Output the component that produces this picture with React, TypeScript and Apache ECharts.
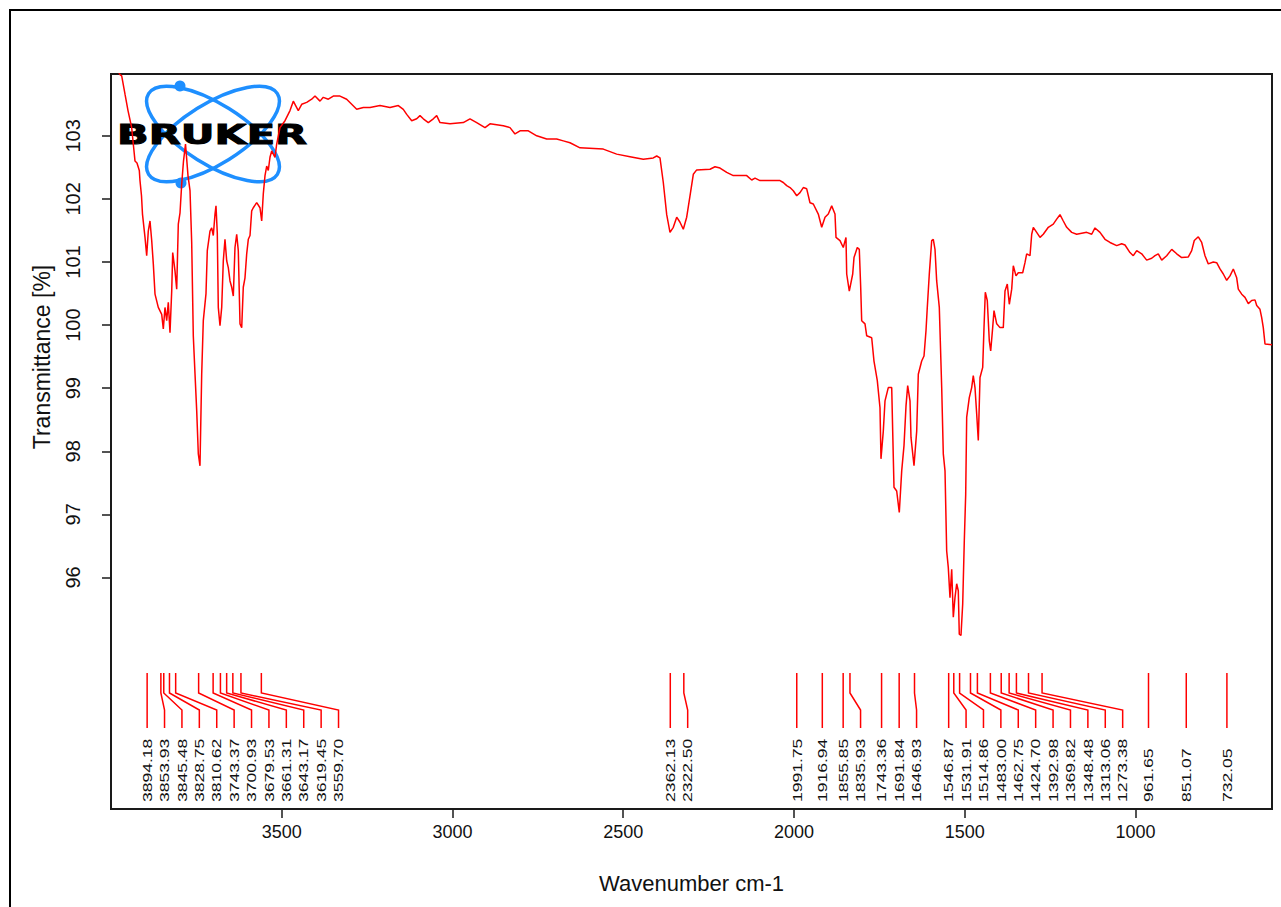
import { useEffect, useRef } from "react";
import * as echarts from "echarts";

// Axis tick positions
const xTicks = [3500, 3000, 2500, 2000, 1500, 1000];
const yTicks = [96, 97, 98, 99, 100, 101, 102, 103];

// Spectrum, [wavenumber cm-1, transmittance %], split by region
const ohStretchRegion: [number, number][] = [
  [3998.5, 104.19], [3973.6, 103.97], [3968.7, 103.95], [3959.0, 103.66], [3950.2, 103.4],
  [3939.4, 103.13], [3934.7, 102.87], [3929.7, 102.6], [3923.9, 102.57], [3917.1, 102.45],
  [3915.1, 102.29], [3910.7, 102.05], [3907.8, 101.76], [3900.4, 101.39], [3895.5, 101.1],
  [3890.8, 101.49], [3885.8, 101.65], [3880.8, 101.34], [3876.1, 100.97], [3871.1, 100.49],
  [3861.5, 100.28], [3851.5, 100.17], [3846.8, 99.94], [3841.9, 100.28], [3836.9, 100.07],
  [3832.2, 100.36], [3827.2, 99.88], [3822.2, 100.54], [3819.3, 101.15], [3812.6, 100.86],
  [3807.6, 100.57], [3802.9, 101.6], [3797.9, 101.78], [3793.0, 102.23], [3787.7, 102.6],
  [3781.8, 102.87], [3774.5, 102.37], [3768.6, 102.13], [3763.7, 101.31], [3759.0, 99.83],
  [3754.0, 99.23], [3749.0, 98.64], [3744.3, 97.96], [3739.4, 97.77], [3734.4, 99.22],
  [3729.7, 100.07], [3721.8, 100.5], [3718.0, 101.18], [3710.1, 101.49], [3705.1, 101.54],
  [3700.4, 101.42], [3695.4, 101.76], [3692.5, 101.89], [3688.7, 101.45], [3685.8, 100.28],
  [3680.8, 99.99], [3675.8, 100.28], [3671.1, 101.02], [3666.2, 101.36], [3661.2, 101.02],
  [3656.5, 100.91], [3651.5, 100.7], [3646.5, 100.6], [3641.8, 100.46], [3636.9, 101.23],
  [3631.9, 101.44], [3627.2, 101.18], [3622.2, 100.02], [3617.2, 99.96], [3612.6, 100.6],
  [3607.6, 100.75], [3602.6, 101.13], [3597.9, 101.36], [3592.9, 101.42], [3588.0, 101.81],
  [3583.3, 101.86], [3573.3, 101.94], [3563.7, 101.86], [3558.7, 101.65], [3554.0, 102.08],
  [3549.0, 102.37], [3544.0, 102.52], [3539.4, 102.45], [3534.4, 102.66], [3529.4, 102.76],
  [3519.7, 102.66], [3514.8, 102.87], [3505.1, 103.13],
];

const plateauRegion: [number, number][] = [
  [3490.4, 103.24], [3475.8, 103.4], [3466.1, 103.55], [3461.2, 103.5], [3451.5, 103.4],
  [3441.5, 103.5], [3426.9, 103.53], [3412.3, 103.58], [3402.6, 103.63], [3387.9, 103.55],
  [3378.3, 103.61], [3363.6, 103.58], [3349.0, 103.63], [3329.4, 103.63], [3309.8, 103.58],
  [3295.1, 103.5], [3280.5, 103.42], [3261.1, 103.45], [3241.5, 103.45], [3212.2, 103.48],
  [3183.0, 103.45], [3158.6, 103.48], [3144.0, 103.42], [3134.0, 103.34], [3119.4, 103.24],
  [3104.8, 103.27], [3095.1, 103.32], [3085.4, 103.27], [3070.8, 103.21], [3056.1, 103.27],
  [3046.2, 103.32], [3036.5, 103.21], [3007.2, 103.19], [2968.3, 103.21], [2948.7, 103.27],
  [2929.1, 103.21], [2904.7, 103.13], [2890.1, 103.19], [2851.2, 103.16], [2831.5, 103.13],
  [2816.9, 103.03], [2802.2, 103.08], [2777.9, 103.08], [2753.3, 103.0], [2724.1, 102.95],
  [2694.8, 102.95], [2675.4, 102.92], [2655.8, 102.89], [2626.5, 102.81], [2558.3, 102.79],
  [2519.1, 102.71], [2480.1, 102.67], [2441.2, 102.63], [2411.9, 102.65], [2401.9, 102.68],
  [2392.3, 102.65],
];

const carbonylRegion: [number, number][] = [
  [2382.6, 102.26], [2372.6, 101.75], [2363.0, 101.47], [2353.3, 101.55], [2343.3, 101.71],
  [2333.7, 101.63], [2324.0, 101.52], [2314.1, 101.71], [2304.4, 102.05], [2294.7, 102.39],
  [2284.8, 102.46], [2245.8, 102.47], [2231.2, 102.51], [2216.5, 102.49], [2196.9, 102.42],
  [2177.6, 102.37], [2138.4, 102.37], [2123.7, 102.3], [2114.0, 102.33], [2099.4, 102.29],
  [2040.8, 102.29], [2031.2, 102.26], [2021.2, 102.21], [2011.5, 102.18], [2001.9, 102.13],
  [1991.9, 102.05], [1982.3, 102.1], [1972.6, 102.18], [1962.6, 102.16], [1953.0, 101.94],
  [1943.3, 101.92], [1928.7, 101.76], [1918.7, 101.55], [1909.0, 101.71], [1899.4, 101.76],
  [1889.4, 101.89], [1879.8, 101.76], [1876.8, 101.39], [1865.1, 101.34], [1855.5, 101.23],
  [1847.6, 101.39], [1845.5, 100.81], [1837.9, 100.54], [1827.9, 100.81], [1824.1, 101.07],
  [1814.5, 101.23], [1808.6, 101.2], [1804.5, 100.6], [1801.6, 100.07],
];

const fingerprintRegion: [number, number][] = [
  [1791.9, 100.02], [1786.9, 99.83], [1772.3, 99.8], [1765.6, 99.43], [1755.9, 99.12],
  [1748.0, 98.69], [1745.1, 97.88], [1738.3, 98.32], [1733.3, 98.8], [1723.7, 99.01],
  [1713.7, 99.01], [1710.8, 98.32], [1707.0, 97.43], [1699.1, 97.37], [1691.5, 97.03],
  [1684.4, 97.69], [1677.7, 98.09], [1671.8, 98.72], [1666.9, 99.04], [1660.1, 98.8],
  [1657.2, 98.22], [1648.4, 97.77], [1640.5, 98.32], [1635.8, 99.22], [1625.9, 99.43],
  [1619.1, 99.51], [1613.3, 99.91], [1609.5, 100.28], [1603.6, 100.81], [1596.6, 101.34],
  [1591.9, 101.36], [1586.9, 101.2], [1582.0, 100.7], [1574.3, 100.28], [1567.3, 99.01],
  [1562.6, 97.96], [1557.6, 97.69], [1552.7, 96.42], [1548.0, 96.16], [1543.0, 95.68],
  [1538.0, 96.13], [1533.3, 95.37], [1528.4, 95.68], [1523.4, 95.9], [1518.7, 95.79],
  [1515.8, 95.1], [1510.8, 95.08], [1505.8, 95.58], [1501.1, 96.58], [1497.0, 97.32],
  [1494.1, 98.54], [1486.5, 98.85], [1479.5, 99.01], [1474.8, 99.2], [1469.8, 99.01],
  [1464.8, 98.59], [1460.1, 98.17], [1455.1, 99.17], [1447.2, 99.33], [1443.4, 99.96],
  [1439.6, 100.52], [1433.8, 100.39], [1427.9, 99.75], [1423.8, 99.59], [1418.0, 99.96],
  [1414.1, 100.23], [1406.2, 100.02], [1396.6, 99.96], [1386.9, 99.96], [1381.9, 100.54],
  [1375.2, 100.65], [1369.3, 100.33], [1362.3, 100.57], [1357.6, 100.94], [1349.7, 100.78],
  [1343.0, 100.83], [1330.1, 100.83], [1323.4, 100.99], [1318.4, 101.13], [1308.7, 101.1],
  [1303.7, 101.44], [1299.0, 101.55], [1289.1, 101.47], [1279.4, 101.39], [1269.8, 101.44],
  [1255.1, 101.55], [1240.5, 101.6], [1230.5, 101.68], [1220.9, 101.75], [1211.2, 101.65],
  [1201.2, 101.55], [1186.6, 101.47], [1172.0, 101.44], [1142.7, 101.47], [1128.0, 101.44],
  [1118.4, 101.54], [1103.7, 101.47], [1089.1, 101.36], [1074.4, 101.31], [1054.8, 101.26],
  [1040.2, 101.29], [1030.5, 101.27], [1015.9, 101.15], [1006.2, 101.1], [996.2, 101.18],
  [981.6, 101.13], [967.0, 101.03], [952.3, 101.06], [942.6, 101.1], [933.0, 101.13],
  [923.0, 101.03], [908.4, 101.1], [893.7, 101.2], [879.1, 101.13], [864.5, 101.07],
  [845.1, 101.08], [835.2, 101.18], [827.6, 101.34], [815.8, 101.4], [805.9, 101.31],
  [796.2, 101.1], [786.6, 100.97], [771.9, 101.0], [762.0, 100.99], [752.3, 100.89],
  [742.6, 100.81], [732.7, 100.71], [723.0, 100.78], [713.3, 100.89], [703.4, 100.75],
  [698.7, 100.57], [688.7, 100.49], [679.1, 100.44], [669.4, 100.34], [659.5, 100.39],
  [649.8, 100.4], [644.8, 100.31], [635.2, 100.25], [630.2, 100.12], [625.5, 99.96],
  [620.5, 99.7], [600.0, 99.69],
];

// Picked peak positions, cm-1
const peakPositions = [
  3894.18, 3853.93, 3845.48, 3828.75, 3810.62, 3743.37, 3700.93, 3679.53, 3661.31, 3643.17,
  3619.45, 3559.7, 2362.13, 2322.5, 1991.75, 1916.94, 1855.85, 1835.93, 1743.36, 1691.84,
  1646.93, 1546.87, 1531.91, 1514.86, 1483.0, 1462.75, 1424.7, 1392.98, 1369.82, 1348.48,
  1313.06, 1273.38, 961.65, 851.07, 732.05,
];

const FONT = '"Liberation Sans", Arial, sans-serif';
const AXIS_COLOR = "#1a1a1a";
const TEXT_COLOR = "#111";

export default function App() {
  const ref = useRef<HTMLDivElement>(null);

  useEffect(() => {
    if (!ref.current) return;
    const chart = echarts.init(ref.current, null, { renderer: "svg" });

    const spectrum = [...ohStretchRegion, ...plateauRegion, ...carbonylRegion, ...fingerprintRegion];

    // Peak markers: a leader line from each peak down to its rotated label;
    // labels are pushed right when they would overlap their neighbour.
    const renderPeaks = (params: any, api: any) => {
      const cs = params.coordSys;
      const bottom = cs.y + cs.height;
      const gap = 17.4;
      const children: any[] = [];
      let prev = -Infinity;
      peakPositions.forEach((w) => {
        const px = api.coord([w, 100])[0];
        const lx = Math.max(px, prev + gap);
        prev = lx;
        const points =
          lx - px < 0.5
            ? [[px, bottom - 136], [px, bottom - 81]]
            : [[px, bottom - 136], [px, bottom - 116], [lx, bottom - 99], [lx, bottom - 81]];
        children.push({
          type: "polyline",
          shape: { points },
          style: { stroke: "#ff0000", lineWidth: 1.5, fill: "none" },
        });
        children.push({
          type: "text",
          x: lx,
          y: bottom - 7,
          rotation: Math.PI / 2,
          scaleX: 1.3,
          style: {
            text: w.toFixed(2),
            font: `13.5px ${FONT}`,
            fill: TEXT_COLOR,
            align: "left",
            verticalAlign: "middle",
          },
        });
      });
      return { type: "group", children };
    };

    const option: any = {
      animation: false,
      backgroundColor: "#ffffff",
      grid: {
        left: 111,
        top: 74,
        width: 1161,
        height: 735,
        show: true,
        borderColor: AXIS_COLOR,
        borderWidth: 2,
        backgroundColor: "transparent",
      },
      xAxis: {
        type: "value",
        min: 600,
        max: 4000,
        inverse: true,
        axisLine: { show: false },
        splitLine: { show: false },
        axisTick: {
          show: true,
          length: 9,
          customValues: xTicks,
          lineStyle: { color: AXIS_COLOR, width: 1.5 },
        },
        axisLabel: {
          customValues: xTicks,
          formatter: (v: number) => String(v),
          margin: 14,
          fontSize: 18,
          fontFamily: FONT,
          color: TEXT_COLOR,
        },
        name: "Wavenumber cm-1",
        nameLocation: "middle",
        nameGap: 63,
        nameTextStyle: { fontSize: 22, fontFamily: FONT, color: TEXT_COLOR },
      },
      yAxis: {
        type: "value",
        min: 92.33,
        max: 103.98,
        axisLine: { show: false },
        splitLine: { show: false },
        axisTick: {
          show: true,
          length: 9,
          customValues: yTicks,
          lineStyle: { color: AXIS_COLOR, width: 1.5 },
        },
        axisLabel: {
          customValues: yTicks,
          formatter: (v: number) => String(v),
          rotate: 90,
          margin: 28,
          fontSize: 20,
          fontFamily: FONT,
          color: TEXT_COLOR,
        },
      },
      graphic: [
        // outer page frame
        {
          type: "rect",
          z: 0,
          shape: { x: 10, y: 10, width: 1320, height: 960 },
          style: { fill: "none", stroke: "#000", lineWidth: 2 },
          silent: true,
        },
        {
          type: "text",
          x: 42,
          y: 357,
          rotation: Math.PI / 2,
          style: {
            text: "Transmittance [%]",
            font: `23px ${FONT}`,
            fill: TEXT_COLOR,
            align: "center",
            verticalAlign: "middle",
          },
          silent: true,
        },
        // Bruker logo
        {
          type: "group",
          z: 100,
          silent: true,
          children: [
            {
              type: "ellipse",
              x: 213,
              y: 134,
              rotation: 0.56,
              shape: { cx: 0, cy: 0, rx: 76, ry: 30 },
              style: { fill: "none", stroke: "#1e8fff", lineWidth: 3.5 },
            },
            {
              type: "ellipse",
              x: 213,
              y: 134,
              rotation: -0.56,
              shape: { cx: 0, cy: 0, rx: 76, ry: 30 },
              style: { fill: "none", stroke: "#1e8fff", lineWidth: 3.5 },
            },
            { type: "circle", shape: { cx: 180, cy: 86, r: 5.5 }, style: { fill: "#1e8fff" } },
            { type: "circle", shape: { cx: 181, cy: 183, r: 5.5 }, style: { fill: "#1e8fff" } },
            {
              type: "text",
              x: 117,
              y: 135,
              scaleX: 1.6,
              style: {
                text: "BRUKER",
                font: 'bold 26px "DejaVu Sans", sans-serif',
                fill: "#000",
                stroke: "#000",
                lineWidth: 1,
                align: "left",
                verticalAlign: "middle",
              },
            },
          ],
        },
      ],
      series: [
        {
          type: "line",
          data: spectrum,
          showSymbol: false,
          symbol: "none",
          clip: true,
          silent: true,
          lineStyle: { color: "#ff0000", width: 1.5 },
          z: 3,
        },
        {
          type: "custom",
          data: [[600, 100]],
          renderItem: renderPeaks,
          silent: true,
          z: 4,
        },
      ],
    };

    chart.setOption(option);
    return () => chart.dispose();
  }, []);

  return (
    <div
      ref={ref}
      style={{ position: "absolute", left: 0, top: 0, width: 1281, height: 907, background: "#fff" }}
    />
  );
}
